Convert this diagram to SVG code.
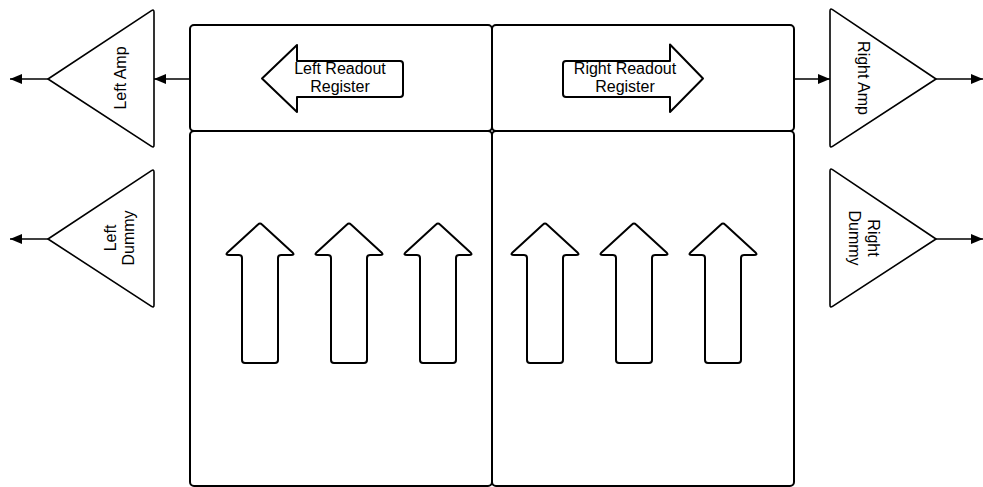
<svg xmlns="http://www.w3.org/2000/svg" xmlns:xlink="http://www.w3.org/1999/xlink" width="983" height="487" viewBox="0 0 983 487">
<style>
.box{fill:#fff;stroke:#000;stroke-width:2}
.tri{fill:#fff;stroke:#000;stroke-width:1.6;stroke-linejoin:round}
.arr{fill:#fff;stroke:#000;stroke-width:2;stroke-linejoin:round}
.lbl{font-family:"Liberation Sans",Arial,sans-serif;font-size:16px;fill:#000;text-anchor:middle}
.con{stroke:#000;stroke-width:1.6;fill:none}
</style>
<defs>
<marker id="ah" viewBox="0 0 12 10" refX="12" refY="5" markerWidth="12" markerHeight="10" markerUnits="userSpaceOnUse" orient="auto">
<path d="M0,0 L12,5 L0,10 Z" fill="#000"/>
</marker>
<path id="up" class="arr" d="M-2,224.5 Q0,222.5 2,224.5 L32.5,252.5 Q35,255 31,255 L21,255 Q18,255 18,258 L18,360 Q18,363 15,363 L-15,363 Q-18,363 -18,360 L-18,258 Q-18,255 -21,255 L-31,255 Q-35,255 -32.5,252.5 Z"/>
</defs>
<g id="left-register-box"><rect class="box" x="190" y="25" width="302" height="106" rx="4"/></g>
<g id="right-register-box"><rect class="box" x="492" y="25" width="302" height="106" rx="4"/></g>
<g id="left-array"><rect class="box" x="190" y="131" width="302" height="355" rx="4"/></g>
<g id="right-array"><rect class="box" x="492" y="131" width="302" height="355" rx="4"/></g>

<g id="left-readout-register">
<path class="arr" d="M262,78.5 L297,45 L297,61 L400,61 Q403,61 403,64 L403,94 Q403,97 400,97 L297,97 L297,112 Z"/>
<text class="lbl" x="340" y="74">Left Readout</text>
<text class="lbl" x="340" y="92">Register</text>
</g>
<g id="right-readout-register">
<path class="arr" d="M703,78.5 L670,44.5 L670,61 L566,61 Q563,61 563,64 L563,94 Q563,97 566,97 L670,97 L670,112 Z"/>
<text class="lbl" x="625" y="74">Right Readout</text>
<text class="lbl" x="625" y="92">Register</text>
</g>

<g id="left-columns">
<use xlink:href="#up" href="#up" x="260"/>
<use xlink:href="#up" href="#up" x="349"/>
<use xlink:href="#up" href="#up" x="438"/>
</g>
<g id="right-columns">
<use xlink:href="#up" href="#up" x="545"/>
<use xlink:href="#up" href="#up" x="634"/>
<use xlink:href="#up" href="#up" x="723"/>
</g>

<g id="left-amp">
<path class="tri" d="M48,79 L151.5,10.7 Q154,9 154,12 L154,145 Q154,148 151.5,146.3 Z"/>
<text class="lbl" transform="translate(126,78) rotate(-90)">Left Amp</text>
</g>
<g id="left-dummy">
<path class="tri" d="M48,239 L151.5,170.7 Q154,169 154,172 L154,305 Q154,308 151.5,306.3 Z"/>
<text class="lbl" transform="translate(115.5,238) rotate(-90)">Left</text>
<text class="lbl" transform="translate(134,238) rotate(-90)">Dummy</text>
</g>
<g id="right-amp">
<path class="tri" d="M936,79 L832.5,9.7 Q830,8 830,11 L830,145 Q830,148 832.5,146.3 Z"/>
<text class="lbl" transform="translate(858,78) rotate(90)">Right Amp</text>
</g>
<g id="right-dummy">
<path class="tri" d="M936,239 L832.5,169.7 Q830,168 830,171 L830,305 Q830,308 832.5,306.3 Z"/>
<text class="lbl" transform="translate(868,238) rotate(90)">Right</text>
<text class="lbl" transform="translate(849,238) rotate(90)">Dummy</text>
</g>

<g id="connectors">
<line class="con" x1="191" y1="79" x2="154" y2="79" marker-end="url(#ah)"/>
<line class="con" x1="48" y1="79" x2="10" y2="79" marker-end="url(#ah)"/>
<line class="con" x1="48" y1="239" x2="10" y2="239" marker-end="url(#ah)"/>
<line class="con" x1="794" y1="79" x2="830" y2="79" marker-end="url(#ah)"/>
<line class="con" x1="936" y1="79" x2="983" y2="79" marker-end="url(#ah)"/>
<line class="con" x1="936" y1="239" x2="983" y2="239" marker-end="url(#ah)"/>
</g>
</svg>
